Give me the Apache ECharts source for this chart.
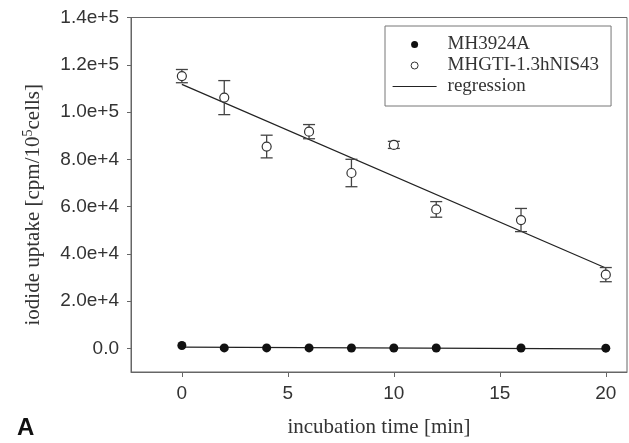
<!DOCTYPE html>
<html>
<head>
<meta charset="utf-8">
<script src="https://cdn.jsdelivr.net/npm/echarts@6/dist/echarts.min.js"></script>
<style>html,body{margin:0;padding:0;background:#fff}#c{width:629px;height:443px}</style>
</head>
<body>
<div id="c"></div>
<script>
const times = [0, 2, 4, 6, 8, 10, 12, 16, 20];
const mh3924a = [1200, 200, 200, 200, 150, 150, 150, 150, 100];
const mhgti = [115200, 106100, 85400, 91700, 74200, 86100, 58800, 54300, 31200];
const mhgtiErr = [2800, 7200, 4800, 3000, 5800, 1500, 3300, 4900, 3000];
const regX = [0, 20];
const regMhgti = [111700, 34000];
const regMh = [500, -200];
const xTicks = [0, 5, 10, 15, 20];
const yTicks = [0, 20000, 40000, 60000, 80000, 100000, 120000, 140000];
const yTickLabels = ['0.0', '2.0e+4', '4.0e+4', '6.0e+4', '8.0e+4', '1.0e+5', '1.2e+5', '1.4e+5'];

const axisCol = '#666';
const textCol = '#333';
const chart = echarts.init(document.getElementById('c'), null, {renderer: 'canvas'});

const errData = times.map((t, i) => [t, mhgti[i] - mhgtiErr[i], mhgti[i] + mhgtiErr[i]]);

chart.setOption({
  animation: false,
  grid: {left: 131, right: 2, top: 17.5, bottom: 70, show: true, borderColor: axisCol, borderWidth: 1},
  xAxis: {
    type: 'value', min: -2.4, max: 21,
    name: 'incubation time [min]', nameLocation: 'middle', nameGap: 45,
    nameTextStyle: {fontFamily: 'Liberation Serif', fontSize: 21, color: textCol},
    axisLine: {show: true, onZero: false, lineStyle: {color: axisCol}},
    axisTick: {show: true, length: 5, inside: false, customValues: xTicks, lineStyle: {color: axisCol}},
    axisLabel: {customValues: xTicks, margin: 12, fontFamily: 'Liberation Sans', fontSize: 19, color: textCol},
    splitLine: {show: false}
  },
  yAxis: {
    type: 'value', min: -10000, max: 140000,
    name: '{a|iodide uptake [cpm/10}{s|5}{a|cells]}', nameLocation: 'middle', nameGap: 86, nameRotate: 90,
    nameTextStyle: {
      padding: [0, 20, 0, 0],
      rich: {
        a: {fontFamily: 'Liberation Serif', fontSize: 21, color: textCol},
        s: {fontFamily: 'Liberation Serif', fontSize: 14, color: textCol, padding: [0, 0, 10, 0]}
      }
    },
    axisLine: {show: true, onZero: false, lineStyle: {color: axisCol}},
    axisTick: {show: true, length: 4, customValues: yTicks, lineStyle: {color: axisCol}},
    axisLabel: {
      customValues: yTicks, margin: 12, fontFamily: 'Liberation Sans', fontSize: 19, color: textCol,
      formatter: v => { const i = yTicks.indexOf(v); return i >= 0 ? yTickLabels[i] : ''; }
    },
    splitLine: {show: false}
  },
  legend: {
    orient: 'vertical', left: 385, top: 26,
    padding: [9, 12, 10, 7], itemGap: 2, itemWidth: 44, itemHeight: 7,
    borderColor: '#777', borderWidth: 1, backgroundColor: '#fff',
    textStyle: {fontFamily: 'Liberation Serif', fontSize: 19, color: textCol, padding: [0, 0, 0, 6]},
    data: [
      {name: 'MH3924A', icon: 'circle', itemStyle: {color: '#111', borderWidth: 0}},
      {name: 'MHGTI-1.3hNIS43', icon: 'circle', itemStyle: {color: '#fff', borderColor: '#333', borderWidth: 1}},
      {name: 'regression', itemStyle: {opacity: 0}, lineStyle: {color: '#222', width: 1.2}}
    ]
  },
  graphic: [{
    type: 'text', left: 17, top: 416,
    style: {text: 'A', font: 'bold 24px "Liberation Sans"', fill: '#111'}
  }],
  series: [
    {
      name: 'regression', type: 'line', data: regX.map((x, i) => [x, regMh[i]]),
      showSymbol: false, symbol: 'none', itemStyle: {color: '#222'}, lineStyle: {color: '#222', width: 1.2}, z: 2
    },
    {
      name: 'regression', type: 'line', data: regX.map((x, i) => [x, regMhgti[i]]),
      showSymbol: false, symbol: 'none', itemStyle: {color: '#222'}, lineStyle: {color: '#222', width: 1.2}, z: 2
    },
    {
      name: 'errbar', type: 'custom', data: errData, z: 3,
      renderItem: (params, api) => {
        const x = api.value(0);
        const p1 = api.coord([x, api.value(2)]);
        const p2 = api.coord([x, api.value(1)]);
        const hw = 6;
        const st = {stroke: '#444', lineWidth: 1.3};
        return {type: 'group', children: [
          {type: 'line', shape: {x1: p1[0], y1: p1[1], x2: p2[0], y2: p2[1]}, style: st},
          {type: 'line', shape: {x1: p1[0] - hw, y1: p1[1], x2: p1[0] + hw, y2: p1[1]}, style: st},
          {type: 'line', shape: {x1: p2[0] - hw, y1: p2[1], x2: p2[0] + hw, y2: p2[1]}, style: st}
        ]};
      }
    },
    {
      name: 'MH3924A', type: 'scatter', data: times.map((t, i) => [t, mh3924a[i]]),
      symbol: 'circle', symbolSize: 9, itemStyle: {color: '#111', opacity: 1}, z: 4
    },
    {
      name: 'MHGTI-1.3hNIS43', type: 'scatter', data: times.map((t, i) => [t, mhgti[i]]),
      symbol: 'circle', symbolSize: 9, itemStyle: {color: '#fff', borderColor: '#333', borderWidth: 1.2, opacity: 1}, z: 5
    }
  ]
});
</script>
</body>
</html>
